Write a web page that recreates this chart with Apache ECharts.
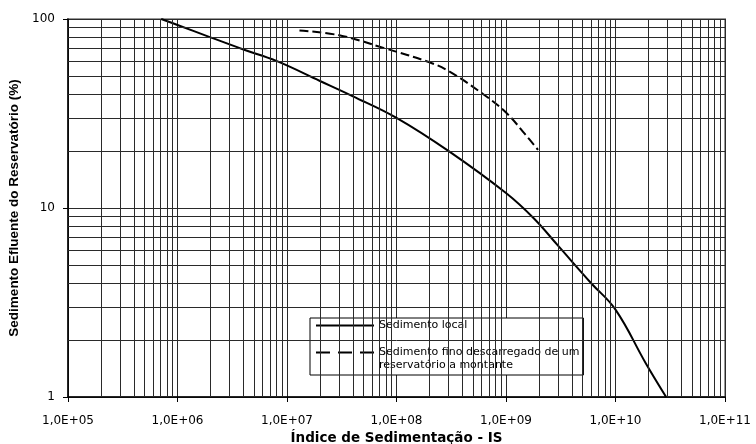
<!DOCTYPE html>
<html>
<head>
<meta charset="utf-8">
<script src="https://cdn.jsdelivr.net/npm/echarts@6/dist/echarts.min.js"></script>
<style>
  html, body { margin: 0; padding: 0; background: #fff; }
  #chart { width: 756px; height: 444px; }
</style>
</head>
<body>
<div id="chart"></div>
<script>
// Sediment index (IS) against percentage of sediment passing the reservoir
const localIS      = [7.1e5, 1e6, 2e6, 4e6, 8e6, 2e7, 4e7, 1e8, 3e8, 1e9, 1.8e9, 3e9, 6e9, 1e10, 1.9e10, 2.9e10];
const localPct     = [100, 93, 80, 69, 60, 47, 39, 30, 20, 12, 8.8, 6.3, 4.0, 2.9, 1.5, 1.0];
const fineIS       = [1.3e7, 3e7, 7.8e7, 2e8, 3e8, 6.2e8, 1e9, 1.5e9, 1.96e9];
const finePct      = [87, 82, 70, 59, 53, 40, 32, 24.5, 20.3];

const seriesNames  = ['Sedimento local', 'Sedimento fino descarregado de um\nreservatório a montante'];
const xDecades     = [1e5, 1e6, 1e7, 1e8, 1e9, 1e10];
const yDecades     = [1, 10];
const minorSteps   = [2, 3, 4, 5, 6, 7, 8, 9];

const pairs = (xs, ys) => xs.map((x, i) => [x, ys[i]]);

const gridColor = '#2a2a2a';
const minorLines = [];
xDecades.forEach(d => minorSteps.forEach(m => minorLines.push({ xAxis: d * m })));
yDecades.forEach(d => minorSteps.forEach(m => minorLines.push({ yAxis: d * m })));

const chart = echarts.init(document.getElementById('chart'), null, { renderer: 'canvas' });

chart.setOption({
  animation: false,
  backgroundColor: '#fff',
  grid: {
    left: 68, right: 31, top: 19, bottom: 47,
    containLabel: false, outerBoundsMode: 'none',
    show: true, borderColor: '#999', borderWidth: 2, backgroundColor: 'transparent'
  },
  legend: {
    orient: 'vertical',
    left: 310, top: 318,
    padding: [1, 4, 3, 5],
    itemGap: 1,
    itemWidth: 58, itemHeight: 14,
    backgroundColor: '#fff',
    borderColor: '#000', borderWidth: 1, borderRadius: 0,
    itemStyle: { opacity: 0 },
    textStyle: { fontFamily: 'DejaVu Sans', fontSize: 11, color: '#000', lineHeight: 13 },
    // a leading blank line keeps the first text line level with the icon
    formatter: name => (name.indexOf('\n') >= 0 ? '\n' + name : name),
    data: [
      { name: seriesNames[0] },
      { name: seriesNames[1], lineStyle: { type: [14, 8] } }
    ]
  },
  xAxis: {
    type: 'log', logBase: 10, min: 1e5, max: 1e11,
    axisLine: { show: true, lineStyle: { color: '#000', width: 1.5 } },
    axisTick: { show: true, length: 5, lineStyle: { color: '#000' } },
    axisLabel: {
      margin: 18, color: '#000', fontFamily: 'DejaVu Sans', fontSize: 12,
      formatter: v => '1,0E+' + String(Math.round(Math.log10(v))).padStart(2, '0')
    },
    splitLine: { show: true, lineStyle: { color: gridColor, width: 1 } },
    name: 'Índice de Sedimentação - IS',
    nameLocation: 'middle', nameGap: 28,
    nameTextStyle: { fontFamily: 'DejaVu Sans', fontWeight: 'bold', fontSize: 13.5, color: '#000' }
  },
  yAxis: {
    type: 'log', logBase: 10, min: 1, max: 100,
    axisLine: { show: true, lineStyle: { color: '#000', width: 1.5 } },
    axisTick: { show: true, length: 5, lineStyle: { color: '#000' } },
    axisLabel: { margin: 13, color: '#000', fontFamily: 'DejaVu Sans', fontSize: 12 },
    splitLine: { show: true, lineStyle: { color: gridColor, width: 1 } },
    name: 'Sedimento Efluente do Reservatório (%)',
    nameLocation: 'middle', nameGap: 36,
    nameTextStyle: { fontFamily: 'Liberation Sans', fontWeight: 'bold', fontSize: 13.5, color: '#000' }
  },
  series: [
    {
      name: 'minor-grid', type: 'line', data: [], silent: true, z: 1,
      markLine: {
        silent: true, symbol: 'none', animation: false,
        label: { show: false },
        lineStyle: { color: gridColor, width: 1, type: 'solid' },
        emphasis: { disabled: true },
        data: minorLines
      }
    },
    {
      name: seriesNames[0], type: 'line', z: 3,
      data: pairs(localIS, localPct),
      smooth: 0.4, showSymbol: false, symbol: 'none',
      lineStyle: { color: '#000', width: 2, type: 'solid' },
      itemStyle: { color: '#000' }
    },
    {
      name: seriesNames[1], type: 'line', z: 3,
      data: pairs(fineIS, finePct),
      smooth: 0.4, showSymbol: false, symbol: 'none',
      lineStyle: { color: '#000', width: 2, type: [9, 4] },
      itemStyle: { color: '#000' }
    }
  ]
});
</script>
</body>
</html>
